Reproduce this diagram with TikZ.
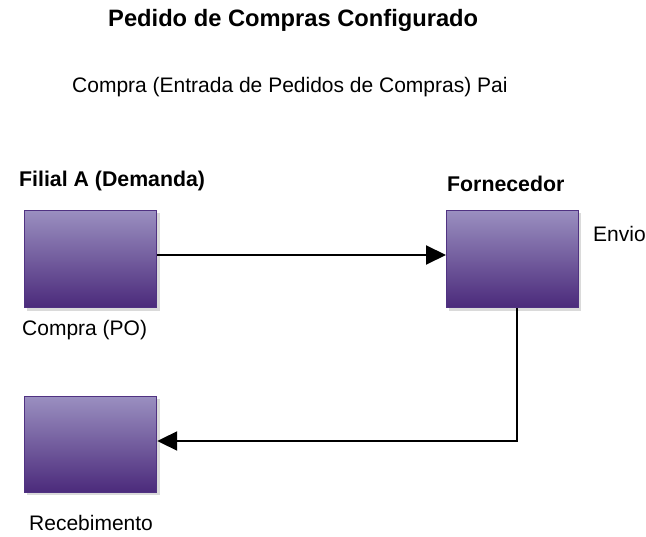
\documentclass[tikz,border=0pt]{standalone}
\usepackage{fontspec}
\setmainfont{Liberation Sans}
\usetikzlibrary{arrows.meta}
\definecolor{boxtop}{RGB}{154,143,192}
\definecolor{boxbot}{RGB}{75,42,123}
\definecolor{boxline}{RGB}{80,50,130}
\definecolor{shadowc}{RGB}{218,218,218}
\tikzset{
  x=1pt,y=1pt,
  lbl/.style={anchor=base west,inner sep=0pt,font=\fontsize{21}{21}\selectfont},
  blbl/.style={anchor=base west,inner sep=0pt,font=\fontsize{21.3}{21}\selectfont\bfseries},
  ttl/.style={anchor=base west,inner sep=0pt,font=\fontsize{23.7}{24}\selectfont\bfseries},
  boxnode/.style={draw=boxline,line width=1.2pt,top color=boxtop,bottom color=boxbot,
     minimum width=132pt,minimum height=97pt,inner sep=0pt,anchor=north west},
  conn/.style={line width=2pt,-{Triangle[length=20pt,width=19pt]}}
}
\begin{document}
\begin{tikzpicture}
\useasboundingbox (0,0) rectangle (646,-537);
% shadows
\fill[shadowc] (27,-213) rectangle (160,-311);
\fill[shadowc] (449,-213) rectangle (581,-311);
\fill[shadowc] (27,-399) rectangle (160,-495);
% boxes
\node[boxnode] (a) at (24,-210) {};
\node[boxnode] (b) at (446,-210) {};
\node[boxnode,minimum height=96pt] (c) at (24,-396) {};
% texts
\node[ttl] (t) at (108,-27) {Pedido de Compras Configurado};
\node[lbl] (s) at (72,-93) {Compra (Entrada de Pedidos de Compras) Pai};
\node[blbl] (fa) at (19,-187) {Filial A (Demanda)};
\node[blbl] (fo) at (447,-192) {Fornecedor};
\node[lbl] (en) at (593,-242) {Envio};
\node[lbl] (po) at (22,-336) {Compra (PO)};
\node[lbl] (re) at (29,-531) {Recebimento};
% connectors
\coordinate (h) at (300,-255);
\draw[conn] (a.east |- h) -- (b.west |- h);
\coordinate (k) at (517,-441);
\draw[conn] (b.south -| k) -- (k) -- (c.east |- k);
\end{tikzpicture}
\end{document}
